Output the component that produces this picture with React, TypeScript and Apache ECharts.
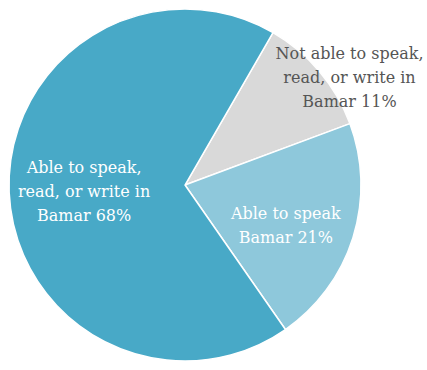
import React, { useEffect, useRef } from "react";
import * as echarts from "echarts";

const categories = [
  "Not able to speak,\nread, or write in\nBamar",
  "Able to speak\nBamar",
  "Able to speak,\nread, or write in\nBamar",
];
const values = [11, 21, 68];
const colors = ["#D9D9D9", "#8EC8DB", "#48A9C7"];
const labelColors = ["#555555", "#FFFFFF", "#FFFFFF"];
const labelShift: [number, number][] = [
  [95, -49],
  [14, 13],
  [-10, 3],
];

export default function App() {
  const ref = useRef<HTMLDivElement>(null);
  useEffect(() => {
    document.body.style.margin = "0";
    if (!ref.current) return;
    const chart = echarts.init(ref.current, null, { renderer: "svg" });
    chart.setOption({
      animation: false,
      backgroundColor: "#FFFFFF",
      series: [
        {
          type: "pie",
          center: [185, 185],
          radius: [0, 176],
          startAngle: 60,
          clockwise: true,
          silent: true,
          itemStyle: { borderColor: "#FFFFFF", borderWidth: 1.5 },
          label: {
            show: true,
            position: "inside",
            fontFamily: "DejaVu Serif",
            fontSize: 16,
            lineHeight: 24,
            align: "center",
            formatter: (p: any) => `${p.name} ${p.value}%`,
          },
          labelLine: { show: false },
          labelLayout: (p: any) => ({
            dx: labelShift[p.dataIndex][0],
            dy: labelShift[p.dataIndex][1],
          }),
          data: categories.map((c, i) => ({
            name: c,
            value: values[i],
            itemStyle: { color: colors[i] },
            label: { color: labelColors[i] },
          })),
        },
      ],
    });
    return () => chart.dispose();
  }, []);
  return <div ref={ref} style={{ width: 427, height: 370 }} />;
}
